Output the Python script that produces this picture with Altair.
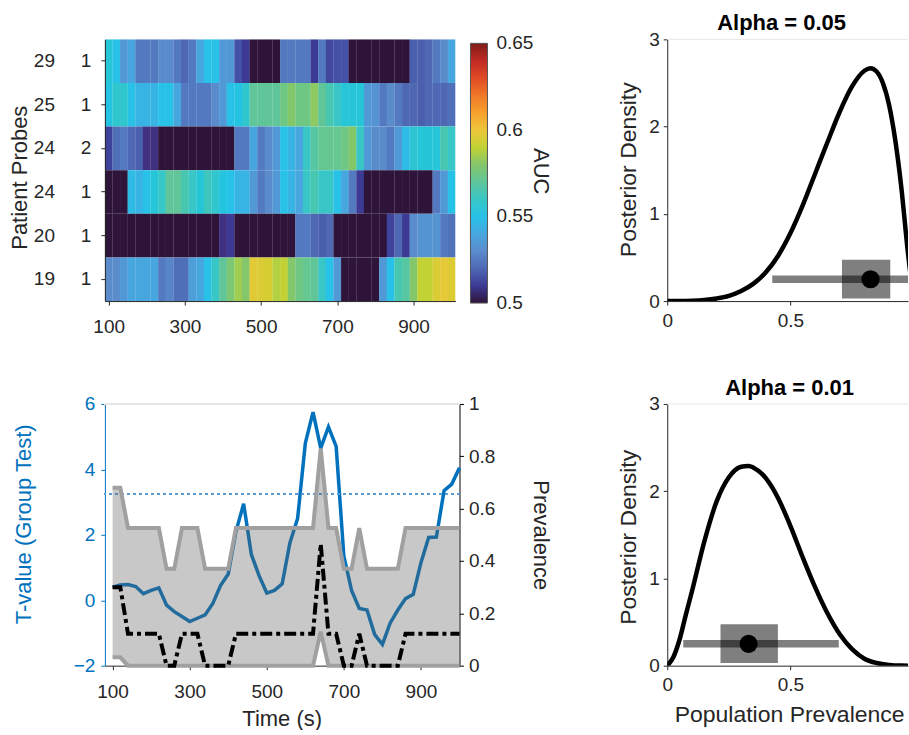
import altair as alt
import pandas as pd

FONT = "Liberation Sans"
TXT = "#262626"
BLUE = "#0072bd"

# ---------------- data ----------------
times = list(range(100, 1001, 20))          # bin centres (s), 20 s bins
half_bin = 10.25                            # half bin width (slight overlap hides seams)
row_labels = ["29 1", "25 1", "24 2", "24 1", "20 1", "19 1"]
patients = ["29", "25", "24", "24", "20", "19"]
D = 0.48  # below-chance / masked cells (darkest colour)

auc_29_1 = [0.555, 0.55, 0.535, 0.54, 0.525, 0.525, 0.525, 0.53, 0.53, 0.525, 0.52, 0.525, 0.54, 0.55, 0.55, 0.535,
            0.535, 0.515, 0.51, D, D, D, D, 0.525, 0.525, 0.525, 0.525, 0.51, 0.525, 0.513, 0.515, 0.515,
            D, D, D, D, D, D, D, D, 0.518, 0.518, 0.52, 0.525, 0.53, 0.54]
auc_25_1 = [0.552, 0.558, 0.558, 0.55, 0.545, 0.545, 0.545, 0.55, 0.55, 0.54, 0.525, 0.525, 0.525, 0.525, 0.53, 0.535,
            0.55, 0.552, 0.558, 0.57, 0.57, 0.57, 0.57, 0.575, 0.58, 0.575, 0.575, 0.582, 0.57, 0.565, 0.56, 0.555,
            0.555, 0.555, 0.535, 0.533, 0.525, 0.53, 0.525, 0.52, 0.52, 0.518, 0.52, 0.52, 0.52, 0.522]
auc_24_2 = [0.512, 0.522, 0.525, 0.52, 0.518, 0.508, 0.508, D, D, D, D, D, D, D, D, D, D,
            0.525, 0.525, 0.54, 0.525, 0.53, 0.535, 0.55, 0.545, 0.54, 0.56, 0.568, 0.572, 0.572, 0.572, 0.575,
            0.58, 0.56, 0.535, 0.53, 0.53, 0.525, 0.535, 0.548, 0.557, 0.555, 0.555, 0.555, 0.565, 0.56]
auc_24_1 = [D, D, D, 0.548, 0.545, 0.55, 0.555, 0.56, 0.57, 0.57, 0.565, 0.56, 0.555, 0.562, 0.558, 0.553, 0.55,
            0.545, 0.545, 0.535, 0.525, 0.53, 0.535, 0.55, 0.545, 0.54, 0.56, 0.565, 0.56, 0.56, 0.55, 0.54,
            0.525, 0.51, D, D, D, D, D, D, D, D, D, 0.525, 0.535, 0.55]
auc_20_1 = [D, D, D, D, D, D, D, D, D, D, D, D, D, D, D, 0.508, 0.51, D, D, D, D, D, D, D, D,
            0.525, 0.525, 0.52, 0.518, 0.52, D, D, D, D, D, D, D,
            0.512, 0.52, 0.51, 0.53, 0.533, 0.533, 0.533, 0.525, 0.523]
auc_19_1 = [0.53, 0.53, 0.535, 0.54, 0.54, 0.54, 0.54, 0.525, 0.528, 0.522, 0.522, 0.537, 0.54, 0.55, 0.56, 0.57,
            0.578, 0.585, 0.58, 0.597, 0.595, 0.594, 0.588, 0.59, 0.58, 0.575, 0.572, 0.57, 0.56, 0.55, 0.535,
            D, D, D, D, D, 0.535, 0.55, 0.565, 0.568, 0.58, 0.59, 0.59, 0.595, 0.598, 0.596]
auc_rows = [auc_29_1, auc_25_1, auc_24_2, auc_24_1, auc_20_1, auc_19_1]

cmap_stops = [0.50, 0.51, 0.52, 0.53, 0.54, 0.55, 0.56, 0.57, 0.58, 0.59, 0.60, 0.61, 0.62, 0.63, 0.64, 0.65]
cmap_colors = ["#2e1439", "#3c3a94", "#4f68b4", "#5a8ccc", "#48a6de", "#28c2e8", "#38c6c6", "#60c69a",
               "#84c66a", "#c2d234", "#eec63a", "#f6a02e", "#f07828", "#e04a26", "#c02a24", "#801c18"]
auc_ticks = [0.5, 0.55, 0.6, 0.65]
# colour-bar label scale: the bar runs from 0.5 (bottom) to 0.65 (top), slightly offset from the heatmap
cbar_domain = [0.50098, 0.65213]

# group test t-values and prevalence (bottom-left)
tval = [0.4, 0.47, 0.48, 0.42, 0.2, 0.3, 0.38, -0.15, -0.35, -0.5,
        -0.65, -0.55, -0.45, -0.1, 0.45, 0.8, 2.1, 2.95, 1.4, 0.75,
        0.22, 0.3, 0.5, 1.75, 2.5, 4.8, 5.75, 4.65, 5.3, 4.7,
        1.35, 0.3, -0.25, -0.3, -1.05, -1.35, -0.7, -0.3, 0.05, 0.18,
        1.15, 1.92, 1.93, 3.35, 3.55, 4.05]
t_threshold = 3.25
prev_upper = [0.68, 0.68, 0.526, 0.526, 0.526, 0.526, 0.526, 0.37, 0.37, 0.526,
              0.526, 0.526, 0.37, 0.37, 0.37, 0.37, 0.526, 0.526, 0.526, 0.526,
              0.526, 0.526, 0.526, 0.526, 0.526, 0.526, 0.526, 0.83, 0.526, 0.526,
              0.37, 0.37, 0.526, 0.37, 0.37, 0.37, 0.37, 0.37, 0.526, 0.526,
              0.526, 0.526, 0.526, 0.526, 0.526, 0.526]
prev_lower = [0.032, 0.032, 0, 0, 0, 0, 0, 0, 0, 0,
              0, 0, 0, 0, 0, 0, 0, 0, 0, 0,
              0, 0, 0, 0, 0, 0, 0, 0.13, 0, 0,
              0, 0, 0, 0, 0, 0, 0, 0, 0, 0,
              0, 0, 0, 0, 0, 0]
prev_map = [0.3, 0.3, 0.122, 0.122, 0.122, 0.122, 0.122, 0, 0, 0.122,
            0.122, 0.122, 0, 0, 0, 0, 0.122, 0.122, 0.122, 0.122,
            0.122, 0.122, 0.122, 0.122, 0.122, 0.122, 0.122, 0.465, 0.122, 0.122,
            0, 0, 0.122, 0, 0, 0, 0, 0, 0.122, 0.122,
            0.122, 0.122, 0.122, 0.122, 0.122, 0.122]

# posterior densities (right)
a05_x = [0, 0.05, 0.1, 0.15, 0.2, 0.25, 0.3, 0.35, 0.4, 0.45, 0.5, 0.55, 0.6, 0.65, 0.7, 0.75, 0.8, 0.825,
         0.85, 0.875, 0.9, 0.925, 0.95, 0.975, 1.0]
a05_y = [0, 0.0, 0.003, 0.012, 0.03, 0.06, 0.115, 0.2, 0.33, 0.52, 0.78, 1.1, 1.46, 1.82, 2.17, 2.46, 2.64, 2.67,
         2.63, 2.5, 2.25, 1.85, 1.3, 0.6, 0.0]
a05_interval = [0.426, 1.0]
a05_box = [0.709, 0.905]
a05_mode = 0.825

a01_x = [0, 0.025, 0.05, 0.075, 0.1, 0.15, 0.2, 0.25, 0.3, 0.33, 0.35, 0.4, 0.45, 0.5, 0.55, 0.6, 0.65, 0.7,
         0.75, 0.8, 0.85, 0.9, 0.95, 1.0]
a01_y = [0, 0.1, 0.3, 0.58, 0.85, 1.42, 1.88, 2.16, 2.28, 2.29, 2.27, 2.15, 1.92, 1.6, 1.24, 0.9, 0.6, 0.36,
         0.19, 0.08, 0.03, 0.008, 0.001, 0]
a01_interval = [0.065, 0.696]
a01_box = [0.216, 0.449]
a01_mode = 0.33

box_y = [0.03, 0.475]
marker_y = 0.25

# ---------------- heatmap ----------------
hm_records = []
for lab, vals in zip(row_labels, auc_rows):
    for t, v in zip(times, vals):
        hm_records.append({"row": lab, "t0": t - half_bin, "t1": t + half_bin, "auc": v})
hm_df = pd.DataFrame(hm_records)

cscale = alt.Scale(type="linear", domain=cmap_stops, range=cmap_colors, clamp=True)
y_hm = alt.Y("row:N", sort=row_labels, scale=alt.Scale(paddingInner=0, paddingOuter=0),
             axis=alt.Axis(title="Patient Probes", labelExpr="split(datum.label, ' ')[1]",
                           labelPadding=10, titleX=-85, titleY=138, titleBaseline="middle",
                           titleAngle=-90))
heat = alt.Chart(hm_df).mark_rect(clip=True).encode(
    x=alt.X("t0:Q", scale=alt.Scale(domain=[90, 1010], nice=False, zero=False),
            axis=alt.Axis(values=[100, 300, 500, 700, 900], title=None, labelPadding=12)),
    x2="t1:Q",
    y=y_hm,
    color=alt.Color("auc:Q", scale=cscale,
                    legend=alt.Legend(type="gradient", orient="none", legendX=366, legendY=4,
                                      direction="vertical", gradientLength=260, gradientThickness=17,
                                      values=auc_ticks, title=None, labelOpacity=0, labelFontSize=1,
                                      gradientStrokeColor="#555555", gradientStrokeWidth=1)),
)
pat_text = alt.Chart(pd.DataFrame({"row": row_labels, "patient": patients})).mark_text(
    align="right", baseline="middle", fontSize=19, font=FONT, color=TXT
).encode(y=y_hm, x=alt.value(-50), text="patient:N")
auc_text = alt.Chart(pd.DataFrame({"lab": ["AUC"]})).mark_text(
    angle=90, fontSize=22, font=FONT, color=TXT, align="center", baseline="middle"
).encode(x=alt.value(437), y=alt.value(132), text="lab:N")
inner_heat = alt.layer(heat, pat_text, auc_text)

cb_df = pd.DataFrame({"v": auc_ticks})
cb_y = alt.Y("v:Q", scale=alt.Scale(domain=cbar_domain, nice=False, zero=False), axis=None)
cb_labels = alt.Chart(cb_df).mark_text(align="left", baseline="middle", fontSize=19, font=FONT,
                                       color=TXT).encode(
    y=cb_y, x=alt.value(392), text=alt.Text("v:Q", format="~g"))
cb_ticks = alt.Chart(pd.DataFrame({"v": auc_ticks[1:3]})).mark_tick(
    color="#555555", thickness=1, size=4, orient="horizontal").encode(y=cb_y, x=alt.value(381))
cbar = alt.layer(cb_labels, cb_ticks)
heat_chart = alt.layer(inner_heat, cbar).resolve_scale(y="independent").properties(width=351, height=262)

# ---------------- time series ----------------
ts_df = pd.DataFrame({"t": times, "tval": tval, "upper": prev_upper, "lower": prev_lower, "map": prev_map})
xenc = alt.X("t:Q", scale=alt.Scale(domain=[80, 1000], nice=False, zero=False),
             axis=alt.Axis(values=[100, 300, 500, 700, 900], title="Time (s)", labelPadding=13,
                           titleX=177, titleY=53, titleBaseline="middle"))
yT = alt.Y("tval:Q", scale=alt.Scale(domain=[-2, 6], nice=False, zero=False),
           axis=alt.Axis(values=[-2, 0, 2, 4, 6], title="T-value (Group Test)", labelColor=BLUE,
                         titleColor=BLUE, domainColor=BLUE, tickColor=BLUE, labelPadding=6,
                         titleX=-81, titleY=120, titleBaseline="middle", titleAngle=-90))
blue_line = alt.Chart(ts_df).mark_line(color=BLUE, strokeWidth=3.5).encode(x=xenc, y=yT)
thr_rule = alt.Chart(ts_df).mark_rule(color="#5b9bd5", strokeWidth=1.2, strokeDash=[2, 4]).encode(
    y=alt.datum(t_threshold))
left_group = alt.layer(blue_line, thr_rule)

yP_axis = alt.Axis(orient="right", values=[0, 0.2, 0.4, 0.6, 0.8, 1], format="~g", title="Prevalence",
                   labelPadding=5, titleX=81, titleY=131, titleBaseline="middle", titleAngle=90,
                   domainColor="#000000", tickColor="#000000")
yP_scale = alt.Scale(domain=[0, 1], nice=False, zero=False)
top_line = alt.Chart(ts_df).mark_rule(color="#e6e6e6", strokeWidth=1).encode(
    y=alt.datum(1, scale=yP_scale, axis=yP_axis))
area = alt.Chart(ts_df).mark_area(color="#606060", opacity=0.35).encode(
    x=xenc, y=alt.Y("lower:Q", scale=yP_scale, axis=yP_axis), y2="upper:Q")
up_line = alt.Chart(ts_df).mark_line(color="#a0a0a0", strokeWidth=4).encode(
    x=xenc, y=alt.Y("upper:Q", scale=yP_scale, axis=yP_axis))
lo_line = alt.Chart(ts_df).mark_line(color="#a0a0a0", strokeWidth=4).encode(
    x=xenc, y=alt.Y("lower:Q", scale=yP_scale, axis=yP_axis))
map_line = alt.Chart(ts_df).mark_line(color="#000000", strokeWidth=4, strokeDash=[12, 4, 4, 4]).encode(
    x=xenc, y=alt.Y("map:Q", scale=yP_scale, axis=yP_axis))
right_group = alt.layer(top_line, area, up_line, lo_line, map_line)
ts_chart = alt.layer(left_group, right_group).resolve_scale(y="independent").properties(width=355, height=262)


# ---------------- posterior panels ----------------
def panel(xs, ys, interval, box, mode, title, dx, titleY, xtitle):
    cdf = pd.DataFrame({"x": xs, "d": ys})
    xs_ = alt.Scale(domain=[0, 0.977], nice=False, zero=False)
    ys_ = alt.Scale(domain=[0, 3], nice=False, zero=False)
    xax = alt.Axis(values=[0, 0.5], format="~g", labelPadding=6,
                   title=xtitle if xtitle else None, titleFontSize=23, titleX=122, titleY=49,
                   titleBaseline="middle")
    yax = alt.Axis(values=[0, 1, 2, 3], title="Posterior Density", titleFontSize=23, labelPadding=4,
                   titleX=-39, titleY=titleY, titleBaseline="middle", titleAngle=-90)
    sdf = pd.DataFrame({"lo": [interval[0]], "hi": [interval[1]], "blo": [box[0]], "bhi": [box[1]],
                        "by0": [box_y[0]], "by1": [box_y[1]], "mode": [mode], "my": [marker_y]})
    top = alt.Chart(sdf).mark_rule(color="#e6e6e6", strokeWidth=1).encode(
        y=alt.datum(3, scale=ys_, axis=yax))
    curve = alt.Chart(cdf).mark_line(color="#000000", strokeWidth=4.5, interpolate="monotone",
                                      clip=True).encode(
        x=alt.X("x:Q", scale=xs_, axis=xax), y=alt.Y("d:Q", scale=ys_, axis=yax))
    bar = alt.Chart(sdf).mark_rule(color="#000000", opacity=0.5, strokeWidth=7.5, clip=True).encode(
        x=alt.X("lo:Q", scale=xs_, axis=xax), x2="hi:Q", y=alt.Y("my:Q", scale=ys_, axis=yax))
    boxm = alt.Chart(sdf).mark_rect(color="#000000", opacity=0.5, clip=True).encode(
        x=alt.X("blo:Q", scale=xs_, axis=xax), x2="bhi:Q",
        y=alt.Y("by0:Q", scale=ys_, axis=yax), y2="by1:Q")
    dot = alt.Chart(sdf).mark_point(filled=True, color="#000000", opacity=1, size=330).encode(
        x=alt.X("mode:Q", scale=xs_, axis=xax), y=alt.Y("my:Q", scale=ys_, axis=yax))
    ttl = alt.Chart(sdf).mark_text(text=title, fontSize=22, fontWeight="bold", font=FONT, color="#000000",
                                   align="center", baseline="alphabetic").encode(
        x=alt.value(120.5 + dx), y=alt.value(-9))
    return alt.layer(top, curve, bar, boxm, dot, ttl).properties(width=241, height=262)


dens_top = panel(a05_x, a05_y, a05_interval, a05_box, a05_mode, "Alpha = 0.05", -6, 130, None)
dens_bot = panel(a01_x, a01_y, a01_interval, a01_box, a01_mode, "Alpha = 0.01", 2, 133,
                 "Population Prevalence")

chart = alt.concat(heat_chart, dens_top, ts_chart, dens_bot, columns=2, bounds="flush",
                   spacing={"row": 103, "column": 208}).properties(
    padding={"left": 8, "top": 12, "right": 0, "bottom": 0},
    background="#ffffff",
).configure(font=FONT).configure_view(stroke=None).configure_axis(
    labelFont=FONT, titleFont=FONT, labelFontSize=19, titleFontSize=22, titleFontWeight="normal",
    labelColor=TXT, titleColor=TXT, domainColor=TXT, tickColor=TXT, tickSize=4, grid=False,
    domainWidth=1, labelFlush=False
)

chart.save("out.html", embed_options={"renderer": "svg", "actions": False})
